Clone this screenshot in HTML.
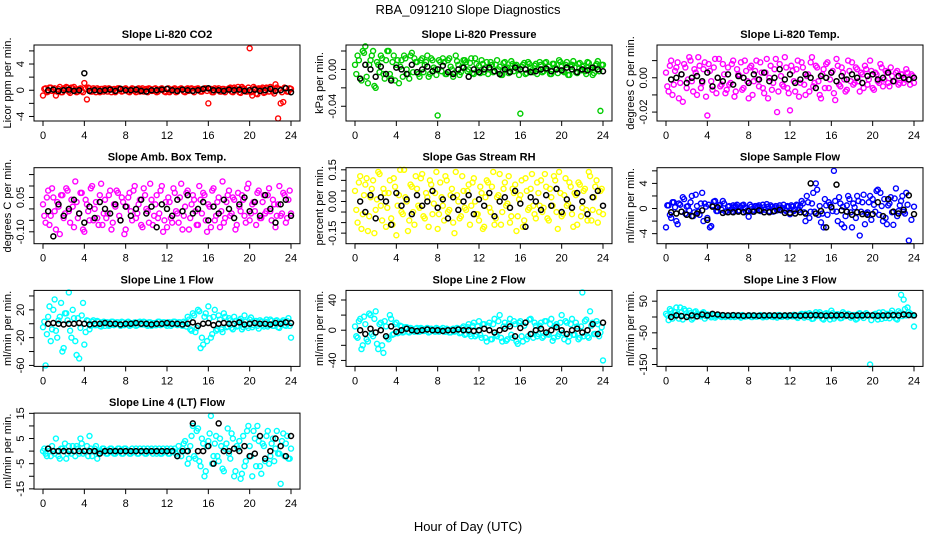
<!DOCTYPE html>
<html><head><meta charset="utf-8"><style>
html,body{margin:0;padding:0;background:#fff;}
svg text{font-family:"Liberation Sans","DejaVu Sans",sans-serif;}
</style></head><body>
<svg id="chart" width="936" height="540" viewBox="0 0 936 540" xmlns="http://www.w3.org/2000/svg">
<rect width="936" height="540" fill="#fff"/>
<text x="468" y="14" font-size="13" text-anchor="middle">RBA_091210  Slope Diagnostics</text>
<text x="468" y="531" font-size="13" text-anchor="middle">Hour of Day (UTC)</text>
</svg>
<script>
// ---------- data ----------
const xTicks = [0,4,8,12,16,20,24];
const panelTitles = ["Slope Li-820 CO2","Slope Li-820 Pressure","Slope Li-820 Temp.","Slope Amb. Box Temp.","Slope Gas Stream RH","Slope Sample Flow","Slope Line 1 Flow","Slope Line 2 Flow","Slope Line 3 Flow","Slope Line 4 (LT) Flow"];
const yLabels = ["Licor ppm per min.","kPa per min.","degrees C per min.","degrees C per min.","percent per min.","ml/min per min.","ml/min per min.","ml/min per min.","ml/min per min.","ml/min per min."];
const colors = ["#ff0000","#00cd00","#ff00ff","#ff00ff","#ffff00","#0000ff","#00ffff","#00ffff","#00ffff","#00ffff"];
const yDomains = [[-4.69,6.9],[-0.056,0.0265],[-0.0252,0.0191],[-0.152,0.18],[-0.2,0.16],[-5.6,6.5],[-61.4,48],[-47.9,52.7],[-156,84],[-15.1,15.1]];
const yTicks = [[-4,-2,0,2,4,6],[-0.04,-0.02,0,0.02],[-0.02,-0.01,0,0.01],[-0.10,-0.05,0,0.05,0.10,0.15],[-0.15,-0.10,-0.05,0,0.05,0.10,0.15],[-4,-2,0,2,4,6],[-60,-40,-20,0,20,40],[-40,-20,0,20,40],[-150,-100,-50,0,50],[-15,-10,-5,0,5,10,15]];
const yTickLabels = [["-4","0","4"],["-0.04","0.00"],["-0.02","0.00"],["-0.10","0.05"],["-0.15","0.00","0.15"],["-4","0","4"],["-60","-20","20"],["-40","0","40"],["-150","-50","50"],["-15","-5","5","15"]];
const yTickLabelValues = [[-4,0,4],[-0.04,0],[-0.02,0],[-0.10,0.05],[-0.15,0,0.15],[-4,0,4],[-60,-20,20],[-40,0,40],[-150,-50,50],[-15,-5,5,15]];
const valueUnits = [1,0.001,0.001,0.001,0.001,1,1,1,1,1];

// colored series A: hours 0,0.25,...,24
const co2 = [-0.8,0.3,-0.2,0.4,0.1,-0.8,0.2,-0.3,0.3,0.5,-0.2,0.4,0.5,-0.3,0.2,-0.1,1.1,-1.4,0.3,-0.2,0.1,0.3,-0.3,0.2,
0.3,-0.2,0.2,0.1,-0.3,0.3,0.2,-0.1,0.3,-0.2,0.1,0.2,-0.3,0.3,0.1,-0.2,0.2,0.3,-0.1,0.2,-0.3,0.1,0.3,-0.2,
0.2,-0.3,0.1,0.3,-0.2,0.2,0.1,-0.3,0.3,0.2,-0.1,0.2,0.3,-0.2,0.1,0.3,-2.0,0.2,-0.3,0.1,0.3,-0.2,0.2,0.1,
0.3,-0.2,0.4,0.1,-0.3,0.5,0.2,-0.2,6.4,-0.8,0.3,-0.6,0.2,0.4,-0.3,0.3,0.5,-0.2,0.9,-4.3,-2.0,-1.8,0.3,-0.2,0.2];
const pressure = [5,15,-10,20,25,-15,10,20,-20,5,15,-5,10,20,-10,15,5,-15,10,15,0,-10,18,12,
8,-8,12,5,15,-5,10,0,-50,8,12,-5,10,3,-8,15,5,-3,10,8,0,12,-5,6,
4,10,-3,8,0,5,-2,10,3,-6,8,2,-2,6,4,0,-48,5,-5,8,2,-3,6,0,
5,-2,8,3,-5,6,0,10,4,-3,8,-6,5,2,-4,7,3,-2,8,0,-6,4,9,-45,5];
const temp = [3,-8,10,-4,6,-12,2,8,-6,12,-2,5,-10,7,-3,9,-22,4,-7,11,0,-5,8,-9,
6,-3,10,-8,2,9,-6,4,-12,7,-2,10,-5,3,-9,11,0,-7,5,-20,8,-4,12,-6,
-19,4,-8,10,-3,6,-10,2,9,-5,7,-2,-12,5,8,-6,3,-9,11,-4,6,-1,-7,4,
9,-3,5,-8,2,7,-4,10,-6,3,-2,8,-5,4,-3,6,-2,3,-4,2,-3,5,-1,2,-3];
const ambBox = [20,-60,80,-30,50,-90,10,60,-40,90,-10,40,-80,30,-20,70,-100,20,-50,100,0,-40,60,-70,
40,-20,80,-60,10,70,-50,30,-90,50,-10,80,-40,20,-70,90,0,-60,40,-30,60,-20,100,-50,
-80,30,-60,70,-20,50,-90,10,80,-40,60,-10,-70,40,70,-50,20,-80,90,-30,50,-10,-60,30,
80,-20,40,-70,10,60,-30,90,-50,20,-10,70,-40,30,-20,60,-10,40,-80,20,-30,70,-60,40,-20];
const rh = [50,-100,120,-60,80,-140,20,100,-40,140,-20,60,-120,40,-80,110,-160,30,-50,150,0,-90,70,-110,
60,-30,130,-80,20,100,-60,40,-130,90,-20,120,-50,30,-100,140,0,-70,50,-40,80,-20,110,-60,
-90,40,-120,100,-30,70,-110,20,130,-50,90,-10,-100,60,80,-70,30,-120,110,-40,60,-20,-80,40,
100,-30,70,-90,20,120,-50,140,-70,30,-20,90,-60,40,-110,80,-30,60,-90,120,-40,70,-100,50,-60];
const sampleFlow = [-3,0.5,-1.5,1,-2,0.8,-0.5,1.5,0.3,-0.3,2,-0.6,0.4,-1,2.5,0.8,-1.5,-3,0.5,1.2,-0.4,0.6,1.2,-0.5,
0.3,-0.2,0.5,0.4,-0.3,0.2,0.6,-0.5,-1.3,0.3,-0.2,0.4,0.5,-0.3,0.2,0.7,-0.4,0.3,0.2,-0.3,0.5,0.1,-0.2,0.4,
-0.9,0.3,-0.2,0.5,0.4,0.8,-2,1,-0.5,2.5,4,-1,-2.2,-3,0.5,1,0.3,6,-0.5,1.8,-2.5,-3,0.5,1.5,
-3,0.2,2,-4.3,1,-2.5,-0.6,2,1.5,-0.5,3,2.5,-2,-1.5,0.5,1.8,-2.6,3.2,-0.4,1.2,-0.5,2.5,-5.1,-1.8,0.3];
const line1 = [-5,-60,10,-25,20,-10,5,30,-35,15,45,-20,8,-45,-50,12,-30,5,-8,3,-2,4,-3,2,
-3,2,-2,3,-1,2,-3,2,-1,3,-2,1,-3,2,-1,3,-2,2,-3,1,-2,3,-1,2,
-3,2,-1,3,-2,2,-3,1,10,-8,15,-12,20,-35,-30,15,25,-20,10,-10,12,-8,15,-5,
8,-6,10,-4,5,-8,12,-3,6,-5,4,-3,5,-2,3,-4,6,-3,4,-5,2,5,-3,8,-20];
const line2 = [5,-10,15,-20,8,-15,20,-8,25,-25,10,-30,5,-12,15,-5,10,-3,5,-2,4,-3,2,-2,
3,-2,2,-1,3,-2,1,-2,2,-1,3,-2,1,-3,2,-1,2,-3,5,-5,8,-8,10,-6,
12,-10,8,-15,10,-12,15,-8,20,-15,10,-12,15,-10,8,-18,12,-15,10,-8,15,-10,6,-5,
10,-8,12,-6,15,-10,8,-5,20,-12,10,-8,15,-6,5,-10,50,12,-8,25,10,-5,8,-3,-40];
const line3 = [10,-10,20,5,30,-5,15,25,0,20,-8,15,10,5,12,-5,8,3,6,-2,4,2,5,0,
3,0,4,1,5,-2,3,2,4,0,5,1,3,2,4,0,5,1,3,-2,6,1,4,0,
5,2,6,-3,8,4,10,0,8,-5,15,10,5,-8,12,3,20,-5,8,6,-3,10,5,8,
2,6,-5,12,3,8,4,-150,5,10,-8,6,15,-3,8,12,2,-5,18,70,55,5,15,8,-30];
const line4 = [0,-1,1,-2,0,5,-2,1,0,-3,2,-1,0,2,-1,3,0,2,6,-2,1,-3,0,1,
0,-1,1,0,-1,1,0,-1,1,0,-1,0,1,-1,0,1,-1,0,1,0,-1,1,-1,0,
1,-1,0,1,-2,0,1,4,-5,2,10,-3,9,-6,3,-8,4,14,-2,6,-4,2,-8,3,
-1,7,-10,2,4,-9,-6,8,2,-10,5,10,-6,3,-4,8,-2,5,1,-1,-13,7,3,-3,1];

// colored series B: hours 0.125,0.375,...
const co2B = [0.2,-0.3,0.4,-0.1,0.3,-0.2,0.5,-0.3,0.2,0.4,-0.4,0.3,0.1,-0.2,0.3,-0.3,0.2,0.4,-0.2,0.3,-0.3,0.1,0.2,-0.2,
0.1,0.3,-0.3,0.2,-0.1,0.3,-0.2,0.2,0.1,-0.3,0.3,-0.1,0.2,-0.2,0.3,0.1,-0.3,0.2,-0.1,0.3,-0.2,0.2,0.1,-0.3,
0.3,-0.1,0.2,-0.3,0.1,0.3,-0.2,0.2,-0.1,0.3,-0.3,0.2,0.1,-0.2,0.3,-0.1,0.2,-0.3,0.3,0.1,-0.2,0.2,-0.3,0.1,
0.4,-0.3,0.2,0.5,-0.4,0.3,-0.2,0.4,-0.3,0.5,-0.5,0.3,0.2,-0.4,0.4,-0.2,0.3,-0.5,0.4,0.2,-0.3,0.4,-0.2,0.3];
const pressureB = [-5,10,-12,18,-8,5,15,-18,8,-3,12,-10,20,-5,8,-12,10,3,-8,12,-5,15,-3,8,
-5,10,-3,8,-8,12,2,-6,10,-2,8,-5,12,0,-4,9,-6,3,10,-2,7,-4,12,-1,
-4,6,2,-5,8,-3,5,0,-6,7,1,-4,9,-2,5,-6,3,7,-4,6,-1,4,-5,8,
-3,7,0,-5,6,2,-4,8,-2,5,-6,3,9,-3,6,-1,4,-5,7,2,-4,6,-2,5];
const tempB = [-5,7,-10,4,9,-3,-14,6,-1,10,-8,3,12,-6,5,-11,8,-2,6,-9,11,-4,2,-7,
-4,8,-11,5,1,-7,10,-2,6,-10,4,-1,9,-6,3,-12,7,-3,11,-8,1,-5,6,-9,
7,-2,5,-11,9,-4,1,-8,12,-3,6,-10,2,-6,9,-1,4,-13,7,-5,3,-8,10,-2,
-4,6,-2,3,-6,5,-1,4,-7,2,-3,6,-1,3,-5,1,-2,4,-3,2,-1,3,-4,1];
const ambBoxB = [-30,50,-70,90,-10,30,-110,60,-20,80,-60,10,120,-40,70,-90,40,-10,90,-50,30,-70,110,-20,
-40,60,-90,20,80,-30,50,-110,10,70,-50,100,-20,40,-80,60,-10,110,-70,20,-40,80,-100,30,
50,-40,90,-10,-60,110,-30,70,-90,20,40,-70,100,-20,60,-100,10,80,-50,30,-80,120,-40,60,
-30,50,-90,70,-10,40,-60,110,-20,30,-70,80,-40,60,-10,90,-50,20,-30,100,-20,60,-40,80];
const rhB = [-40,90,-130,30,110,-70,60,-150,10,130,-90,40,-30,100,-110,70,-20,150,-60,20,-140,80,-50,120,
-20,110,-70,40,-120,80,-10,140,-60,20,-90,100,-40,60,-150,30,-80,120,-30,50,-110,90,0,-60,
70,-130,20,90,-50,140,-80,30,-110,60,-20,120,-70,40,-140,10,100,-90,50,-30,130,-60,90,-20,
-50,130,-80,60,-20,100,-130,40,-60,110,-10,70,-120,30,90,-70,50,-40,140,-90,20,100,-50,60];
const sampleFlowB = [0.5,-1,1,0.2,-2.5,0.6,1.8,-0.8,0.4,1,-1.2,2.2,-0.5,0.8,-2,0.3,0.6,-2.8,1.1,-0.4,0.5,-0.2,0.8,-0.4,
0.4,-0.5,0.3,0.6,-0.4,0.5,0.2,-0.3,0.6,-0.5,0.4,0.3,-0.4,0.6,-0.2,0.3,0.5,-0.5,0.4,0.2,-0.3,0.6,-0.4,0.3,
0.5,-0.4,0.6,-0.2,1.2,-0.6,2,-1.5,0.8,-0.5,3,0.4,-0.8,1.5,-1,0.6,-0.4,1.2,-2,0.8,0.3,-1.2,2,-0.6,
0.8,-1.5,1.2,-0.5,2.2,-0.8,1,-1.8,0.6,2.8,-1,0.4,1.5,-2.5,0.8,-0.6,1.6,-1.2,0.5,2,-0.8,0.6];
const line1B = [3,-15,25,-8,35,-20,10,-40,15,5,-10,20,-25,8,-6,30,-12,4,-3,5,-2,3,-4,3,
2,-3,3,-2,2,-1,3,-2,2,-3,1,2,-2,3,-1,2,-3,2,1,-2,3,-2,2,-1,
2,-3,3,-1,2,-2,3,-4,6,-10,12,-6,18,-20,10,-25,8,-15,20,-8,6,-12,10,-4,
5,-8,4,-3,7,-5,3,-6,9,-2,4,-7,3,-4,6,-2,4,-3,5,-6,3,-2,4,-3];
const line2B = [-8,12,-25,18,-12,22,-5,15,-18,8,-20,12,-10,20,-6,8,-4,6,-3,4,-2,3,-1,2,
-2,3,-1,2,-3,2,-1,3,-2,1,-2,2,-3,1,-2,3,-4,3,-6,4,-5,6,-8,5,
-6,8,-10,6,-12,8,-6,12,-10,5,-14,8,-6,12,-15,10,-8,6,-12,14,-5,10,-8,6,
-10,12,-5,8,-14,6,-8,10,-4,12,-15,8,-6,10,-12,5,-8,14,-10,6,-5,12,-8,4];
const line3B = [5,25,-5,15,10,30,-8,20,5,12,-3,18,8,2,15,3,7,-1,5,2,6,0,4,3,
2,5,0,4,2,6,1,3,5,0,4,2,6,-1,4,3,5,0,2,6,1,4,3,5,
3,7,0,5,10,-2,6,12,-6,8,3,15,-5,10,6,-8,12,2,9,-4,15,3,10,-2,
6,-8,10,4,-3,12,6,-10,8,2,14,-6,5,10,-4,20,6,-8,12,3,25,30,10,5];
const line4B = [1,-2,0,2,-1,0,-3,1,3,-1,0,2,-2,1,5,-1,0,-2,1,0,2,-1,0,1,
-1,0,1,-1,0,1,-1,1,0,-1,1,0,-1,1,0,-1,1,0,-1,1,0,-1,1,0,
-1,1,0,-1,2,-2,3,0,-3,6,-2,8,-4,5,-10,2,7,-5,3,-2,5,-7,1,9,
-3,5,-8,1,-11,6,-4,10,-2,8,-6,4,-9,2,6,-5,3,-4,8,-1,4,-2,6,-3];

// black series: hours 0.5,1.0,...,24
const co2Black = [0,0.1,-0.1,0,0.1,-0.1,0,2.6,-0.1,0,-0.1,0,0.1,-0.1,0.2,0,0,0.1,-0.1,-0.2,0,0,0.1,0.2,0,-0.1,0.1,0,-0.1,0,0.2,0.3,0,0,-0.1,0.1,0,0.1,-0.1,0,0.1,-0.1,0,0.2,-0.1,0,0.3,-0.3];
const pressureBlack = [-10,5,0,-8,3,-5,-12,2,0,-5,5,-3,0,3,-2,0,4,-3,-5,0,2,-8,0,-3,0,2,-2,-5,0,-3,2,0,0,-3,-2,0,1,-2,0,-1,2,0,-3,0,-1,2,0,-2];
const tempBlack = [-1,0,2,-3,0,1,-2,3,-5,0,-2,2,-4,1,0,-3,2,-1,3,-2,0,5,-1,2,-3,-1,2,0,-6,1,0,3,-2,1,-1,2,0,-3,1,2,-1,0,3,-2,1,0,-1,0];
const ambBoxBlack = [-10,-120,20,-30,0,40,-20,-60,10,-40,30,0,-20,20,-50,10,-30,0,40,-20,10,-80,20,0,-30,40,-10,60,-20,0,30,-50,10,-20,40,0,-40,20,50,-10,30,-30,60,0,-60,20,40,-30];
const rhBlack = [0,-50,30,-80,20,0,-110,40,-20,10,-60,30,-20,0,50,-30,10,-80,20,-40,0,30,-60,10,-20,40,-70,0,20,-30,50,-10,-120,20,0,-40,30,-20,60,-50,10,-30,40,0,-60,20,50,-20];
const sampleFlowBlack = [-0.6,-0.8,-0.5,-1,-1.2,-0.8,-0.3,-1.8,0.3,0.2,-0.7,-0.6,-0.6,-0.5,-0.6,-0.4,-0.5,-0.3,-0.6,-0.6,-0.4,-0.2,-0.7,-0.7,-0.8,-0.6,-0.8,4,-0.8,-0.4,-3,0.2,3.8,-0.3,-0.5,-1,-0.6,-0.9,-1,-0.9,1,-1.2,1.5,-0.5,-0.8,-0.2,2.1,-0.9];
const line1Black = [0,1,0,-1,0,0,1,0,-1,0,0,1,0,0,-1,0,0,1,0,0,-1,0,0,1,0,0,-1,0,2,-3,0,1,-2,0,1,0,0,2,-1,0,1,0,0,-1,1,0,2,1];
const line2Black = [0,-5,2,-3,0,-8,5,-2,0,2,0,-1,0,1,0,0,-1,0,0,1,0,0,-1,0,2,0,-3,0,2,5,-8,3,10,-5,0,2,-3,0,4,0,-5,0,2,-3,0,8,-5,10];
const line3Black = [0,5,3,0,5,2,8,5,10,8,6,5,6,5,4,5,5,4,5,5,5,4,5,5,5,4,5,5,6,5,4,5,5,6,5,4,5,5,6,5,4,5,5,6,5,8,6,5];
const line4Black = [1,0,0,0,0,0,0,0,0,0,-1,0,0,0,0,0,0,0,0,0,0,0,0,0,0,-2,0,0,11,0,0,2,-5,11,0,0,1,0,2,-2,-1,6,-3,0,5,2,-2,6];

const colorSeries = [co2,pressure,temp,ambBox,rh,sampleFlow,line1,line2,line3,line4];
const colorSeriesB = [co2B,pressureB,tempB,ambBoxB,rhB,sampleFlowB,line1B,line2B,line3B,line4B];
const blackSeries = [co2Black,pressureBlack,tempBlack,ambBoxBlack,rhBlack,sampleFlowBlack,line1Black,line2Black,line3Black,line4Black];

// ---------- drawing ----------
const NS = "http://www.w3.org/2000/svg";
const svg = document.getElementById("chart");
function mk(tag, attrs, parent){
  const e = document.createElementNS(NS, tag);
  for (const k in attrs) e.setAttribute(k, attrs[k]);
  (parent||svg).appendChild(e);
  return e;
}
const FW = 266, FH = 76;
for (let p = 0; p < 10; p++) {
  const col = p % 3, row = Math.floor(p / 3);
  const L = 34 + 311.5 * col + (col === 1 ? 0.5 : 0), T = 45 + 122.7 * row;
  const R = L + FW, B = T + FH;
  const [y0, y1] = yDomains[p];
  const xs = h => L + 9 + h / 24 * (FW - 18);
  const ys = v => B - (v - y0) / (y1 - y0) * FH;
  const u = valueUnits[p];
  const g = mk("g", {});
  
  

  const title = mk("text", {x: (L + R) / 2, y: T - 7, "font-size": 11, "font-weight": "bold", "text-anchor": "middle"}, g);
  title.textContent = panelTitles[p];
  
  

  const pts = mk("g", {}, g);
  
  
  colorSeries[p].forEach((v, i) => {
    const c = mk("circle", {cx: xs(i * 0.25), cy: ys(v * u), r: 2.5, fill: "none", stroke: colors[p], "stroke-width": 1.4}, pts);
    
    
  });
  colorSeriesB[p].forEach((v, i) => {
    const h = i * 0.25 + 0.125;
    if (h > 24) return;
    const c = mk("circle", {cx: xs(h), cy: ys(v * u), r: 2.5, fill: "none", stroke: colors[p], "stroke-width": 1.4}, pts);
    
    
  });
  const bpts = mk("g", {}, g);
  
  
  blackSeries[p].forEach((v, i) => {
    const c = mk("circle", {cx: xs((i + 1) * 0.5), cy: ys(v * u), r: 2.5, fill: "none", stroke: "#000", "stroke-width": 1.5}, bpts);
    
    
  });

  const frame = mk("rect", {x: L, y: T, width: FW, height: FH, fill: "none", stroke: "#000", "stroke-width": 1}, g);
  
  

  // x axis
  const xa = mk("g", {}, g);
  
  
  mk("line", {x1: xs(xTicks[0]), x2: xs(xTicks[xTicks.length - 1]), y1: B, y2: B, stroke: "#000"}, xa);
  xTicks.forEach(t => {
    mk("line", {x1: xs(t), x2: xs(t), y1: B, y2: B + 5, stroke: "#000"}, xa);
    const tx = mk("text", {x: xs(t), y: B + 18, "font-size": 11, "text-anchor": "middle"}, xa);
    tx.textContent = t;
    
    
  });

  // y axis
  const ya = mk("g", {}, g);
  
  
  const yt = yTicks[p];
  mk("line", {x1: L, x2: L, y1: ys(yt[0]), y2: ys(yt[yt.length - 1]), stroke: "#000"}, ya);
  yt.forEach(t => { mk("line", {x1: L - 5, x2: L, y1: ys(t), y2: ys(t), stroke: "#000"}, ya); });
  yTickLabelValues[p].forEach((t, k) => {
    const x = L - 10, y = ys(t);
    const tx = mk("text", {x: x, y: y, "font-size": 11, "text-anchor": "middle", transform: `rotate(-90 ${x} ${y})`}, ya);
    tx.textContent = yTickLabels[p][k];
    
    
  });
  const lx = L - 23, ly = (T + B) / 2;
  const yl = mk("text", {x: lx, y: ly, "font-size": 11, "text-anchor": "middle", transform: `rotate(-90 ${lx} ${ly})`}, ya);
  yl.textContent = yLabels[p];
  
  
}
</script>
</body></html>
